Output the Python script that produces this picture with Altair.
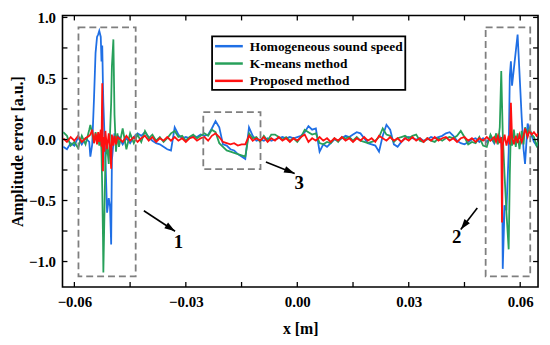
import altair as alt
import pandas as pd

# ---------------- data (x in mm) ----------------
x_left = [-63, -62, -61, -60, -59, -58, -57, -56]
x_spike1 = [-55.7, -55.2, -54.7, -54.3, -53.9, -53.6, -53.3, -52.9, -52.7, -52.5,
            -52.3, -52.2, -51.9, -51.65, -51.2, -50.75, -50.4, -50.1, -49.9, -49.5,
            -49.2, -48.8, -48.4]
x_mid = [-48, -47, -46, -45, -44, -43, -42, -41, -40, -39, -38, -37, -36, -35, -34,
         -33, -32, -31, -30, -29, -28, -27, -26, -25, -24, -23, -22, -21, -20, -19,
         -18, -17, -16, -15, -14, -13, -12, -11, -10, -9, -8, -7, -6, -5, -4, -3, -2,
         -1, 0, 1, 2, 3, 4, 5, 6, 7, 8, 9, 10, 11, 12, 13, 14, 15, 16, 17, 18, 19, 20,
         21, 22, 23, 24, 25, 26, 27, 28, 29, 30, 31, 32, 33, 34, 35, 36, 37, 38, 39,
         40, 41, 42, 43, 44, 45, 46, 47, 48, 49, 50, 51, 52, 53]
x_spike2 = [53.5, 54.0, 54.5, 54.9, 55.1, 55.3, 55.8, 56.3, 56.9, 57.2, 57.5, 57.8,
            58.3, 58.8, 59.3, 59.8, 60.4, 60.9, 61.3, 62.0, 62.5, 63.1, 63.7, 64.4, 64.8]

homog_left = [-0.06, -0.08, -0.03, -0.05, 0.02, -0.04, 0.01, -0.02]
homog_spike1 = [-0.14, -0.04, 0.35, 0.71, 0.84, 0.86, 0.89, 0.84, 0.64, 0.77,
                0.43, 0.30, 0.04, -0.15, -0.60, -0.48, -0.55, -0.86, -0.17, -0.03,
                0.05, -0.02, 0.03]
homog_mid = [0.02, -0.04, 0.01, -0.03, 0.02, 0.05, 0.03, 0.06, 0.02, -0.01, -0.03,
             -0.04, -0.06, -0.08, -0.09, 0.10, 0.04, 0.01, 0.02, 0.01, 0.03, 0.02,
             0.04, 0.03, 0.04, 0.09, 0.15, 0.10, -0.04, -0.05, -0.08, -0.09, -0.12,
             -0.14, -0.16, 0.10, 0.03, -0.01, 0.00, -0.01, 0.01, -0.01, 0.00, 0.01,
             0.02, 0.01, 0.02, 0.01, 0.02, 0.03, 0.06, 0.11, 0.08, 0.09, -0.10, -0.04,
             -0.06, -0.03, 0.00, -0.01, 0.01, 0.03, 0.02, 0.04, 0.06, 0.05, 0.01,
             -0.03, -0.04, -0.05, -0.10, 0.03, 0.12, 0.08, -0.04, -0.06, -0.02, 0.01,
             0.02, 0.01, 0.00, 0.01, -0.01, 0.00, 0.02, 0.01, 0.02, 0.03, 0.05, 0.06,
             0.03, -0.01, -0.03, -0.04, -0.02, 0.00, 0.01, -0.02, 0.01, -0.02, 0.02,
             -0.03]
homog_spike2 = [0.03, -0.02, 0.02, -0.03, -0.10, -1.06, -0.54, -0.58, -0.10, 0.52,
                0.64, 0.44, 0.58, 0.72, 0.86, 0.55, 0.18, -0.08, -0.20, 0.13, 0.08,
                0.03, -0.02, -0.05, -0.03]

kmeans_left = [0.06, 0.03, -0.05, -0.02, -0.07, 0.03, -0.04, 0.08]
kmeans_spike1 = [0.12, 0.05, -0.03, 0.06, -0.02, 0.04, -0.05, 0.06, -0.10, -0.40,
                 -0.80, -1.09, -0.60, -0.15, -0.05, -0.20, 0.05, 0.30, 0.60, 0.82,
                 0.20, -0.10, 0.05]
kmeans_mid = [-0.06, 0.09, -0.08, 0.05, -0.03, 0.04, -0.02, 0.07, 0.01, 0.04, -0.01,
              0.02, -0.02, 0.01, 0.05, 0.07, 0.02, 0.03, -0.01, 0.02, 0.04, 0.01,
              0.03, 0.05, 0.03, 0.08, 0.06, -0.03, -0.06, -0.09, -0.10, -0.11, -0.12,
              -0.13, -0.14, 0.05, 0.01, 0.02, -0.02, 0.03, -0.01, 0.04, 0.04, 0.02,
              0.00, 0.02, -0.01, 0.01, -0.02, 0.02, 0.08, 0.06, 0.04, 0.05, -0.03,
              -0.04, -0.02, -0.03, 0.01, -0.02, 0.02, 0.01, 0.02, -0.01, 0.02, -0.01,
              -0.02, -0.03, -0.02, -0.01, 0.02, 0.09, 0.04, 0.03, -0.02, 0.01, 0.02,
              0.03, 0.01, 0.03, 0.04, -0.01, -0.02, 0.01, -0.01, -0.02, 0.01, -0.01,
              0.01, 0.02, 0.01, 0.03, 0.07, 0.02, -0.04, -0.02, -0.03, 0.02, -0.05,
              -0.06, 0.04, -0.02]
kmeans_spike2 = [0.05, -0.04, 0.10, 0.56, 0.30, 0.05, -0.30, -0.60, -0.90, -0.30,
                 0.10, -0.05, 0.08, -0.06, 0.05, -0.08, 0.07, -0.04, 0.10, 0.05, 0.09,
                 0.04, 0.02, -0.05, -0.02]

proposed_left = [0.01, -0.02, 0.02, -0.01, 0.03, -0.02, 0.01, 0.03]
proposed_spike1 = [0.04, 0.08, -0.03, 0.05, -0.04, 0.06, -0.02, 0.08, -0.06, 0.46,
                   -0.26, 0.02, -0.10, 0.07, -0.08, 0.05, -0.06, -0.24, 0.04, -0.05,
                   0.03, -0.04, 0.02]
proposed_mid = [0.01, -0.02, 0.03, -0.01, 0.02, -0.02, 0.01, 0.03, -0.01, 0.02, -0.02,
                0.01, -0.01, 0.02, -0.01, 0.02, -0.01, 0.01, -0.02, 0.01, 0.02, -0.01,
                0.01, 0.02, -0.01, 0.03, 0.05, 0.02, -0.02, -0.03, -0.04, -0.03, -0.05,
                -0.04, -0.04, 0.03, -0.01, 0.01, -0.01, 0.02, -0.02, 0.01, -0.01, 0.02,
                -0.01, 0.01, -0.02, 0.01, -0.01, 0.02, 0.04, -0.02, 0.01, -0.01, 0.02,
                -0.01, 0.01, -0.02, 0.01, -0.01, 0.02, -0.01, 0.01, -0.02, 0.01, -0.01,
                0.02, -0.01, 0.01, -0.02, 0.03, 0.01, -0.01, 0.02, -0.01, 0.01, -0.02,
                0.01, -0.01, 0.02, -0.01, 0.01, -0.02, 0.01, -0.01, 0.02, -0.01, 0.01,
                0.02, -0.01, 0.01, -0.02, 0.01, 0.02, -0.01, 0.01, -0.02, 0.01, -0.01,
                0.02, -0.01, 0.02]
proposed_spike2 = [-0.02, 0.03, -0.03, 0.02, -0.68, -0.05, 0.04, -0.05, 0.03, -0.04,
                   0.30, 0.02, -0.04, 0.03, -0.03, 0.04, -0.02, 0.03, 0.09, 0.02, 0.07,
                   0.04, 0.06, 0.03, 0.05]

series_names = ["Homogeneous sound speed", "K-means method", "Proposed method"]
series_colors = ["#1f6fe5", "#27a05a", "#ff1010"]

x_ticks = [-0.06, -0.045, -0.03, -0.015, 0.0, 0.015, 0.03, 0.045, 0.06]
x_labels = [-0.06, -0.03, 0.0, 0.03, 0.06]
y_ticks = [-1.0, -0.75, -0.5, -0.25, 0.0, 0.25, 0.5, 0.75, 1.0]
y_labels = [-1.0, -0.5, 0.0, 0.5, 1.0]

# annotation boxes, arrows and numbers (data coordinates)
box_x0 = [-0.0589, 0.0507, -0.0253]
box_x1 = [-0.0435, 0.0627, -0.0099]
box_y0 = [0.918, 0.918, 0.224]
box_y1 = [-1.122, -1.122, -0.243]
arrow_x0 = [-0.0413, 0.04845, -0.00845]
arrow_y0 = [-0.584, -0.562, -0.184]
arrow_x1 = [-0.0329, 0.0440, -0.0007]
arrow_y1 = [-0.752, -0.738, -0.278]
arrow_angle = [123.5, 217.2, 112.0]
num_text = ["1", "2", "3"]
num_x = [-0.0320, 0.0429, 0.00053]
num_y = [-0.844, -0.800, -0.360]

# ---------------- chart ----------------
W, H = 480, 274
FONT = "Liberation Serif"
xs = alt.Scale(domain=[-0.0632, 0.0648], nice=False, zero=False)
ys = alt.Scale(domain=[-1.208, 1.016], nice=False, zero=False)

x_mm = x_left + x_spike1 + x_mid + x_spike2
vals = {
    series_names[0]: homog_left + homog_spike1 + homog_mid + homog_spike2,
    series_names[1]: kmeans_left + kmeans_spike1 + kmeans_mid + kmeans_spike2,
    series_names[2]: proposed_left + proposed_spike1 + proposed_mid + proposed_spike2,
}

xaxis = alt.Axis(values=x_labels, format=".2f", tickSize=0, domain=False, grid=False,
                 labelPadding=8, title="x [m]", titlePadding=11)
yaxis = alt.Axis(values=y_labels, format=".1f", tickSize=0, domain=False, grid=False,
                 labelPadding=7, title="Amplitude error [a.u.]", titlePadding=3)


def X(field):
    return alt.X(field, scale=xs, axis=xaxis)


def Y(field):
    return alt.Y(field, scale=ys, axis=yaxis)


color = alt.Color("series:N",
                  scale=alt.Scale(domain=series_names, range=series_colors),
                  legend=None)

layers = []
for name in series_names:
    d = pd.DataFrame({"x": [v / 1000 for v in x_mm], "y": vals[name], "series": name})
    layers.append(
        alt.Chart(d).mark_line(strokeWidth=1.8, clip=True).encode(
            x=X("x:Q"), y=Y("y:Q"), color=color)
    )

xt = pd.DataFrame({"t": x_ticks})
yt = pd.DataFrame({"t": y_ticks})
tick_style = dict(color="black", strokeWidth=1.3)
layers += [
    alt.Chart(xt).mark_rule(**tick_style).encode(
        x=X("t:Q"), y=alt.value(H), y2=alt.value(H - 5)),
    alt.Chart(xt).mark_rule(**tick_style).encode(
        x=X("t:Q"), y=alt.value(0), y2=alt.value(5)),
    alt.Chart(yt).mark_rule(**tick_style).encode(
        y=Y("t:Q"), x=alt.value(0), x2=alt.value(5)),
    alt.Chart(yt).mark_rule(**tick_style).encode(
        y=Y("t:Q"), x=alt.value(W), x2=alt.value(W - 5)),
]

boxes = pd.DataFrame({"x0": box_x0, "x1": box_x1, "y0": box_y0, "y1": box_y1})
layers.append(
    alt.Chart(boxes).mark_rect(fill=None, fillOpacity=0, stroke="#7f7f7f",
                               strokeWidth=1.8, strokeDash=[7, 4]).encode(
        x=X("x0:Q"), x2="x1:Q", y=Y("y0:Q"), y2="y1:Q")
)

arrows = pd.DataFrame({"x0": arrow_x0, "y0": arrow_y0, "x1": arrow_x1, "y1": arrow_y1,
                       "angle": arrow_angle})
layers.append(
    alt.Chart(arrows).mark_rule(color="black", strokeWidth=1.6).encode(
        x=X("x0:Q"), x2="x1:Q", y=Y("y0:Q"), y2="y1:Q")
)
layers.append(
    alt.Chart(arrows).mark_point(shape="M0,0L0.7,2.2L-0.7,2.2Z", filled=True,
                                 fill="black", stroke=None, opacity=1, size=95).encode(
        x=X("x1:Q"), y=Y("y1:Q"), angle=alt.Angle("angle:Q", scale=None))
)

nums = pd.DataFrame({"x": num_x, "y": num_y, "t": num_text})
layers.append(
    alt.Chart(nums).mark_text(font=FONT, fontWeight="bold", fontSize=19, color="black",
                              align="center", baseline="middle").encode(
        x=X("x:Q"), y=Y("y:Q"), text="t:N")
)

# legend drawn by hand (box, line samples, labels) in pixel space of the plot
LEG_X0, LEG_X1, LEG_Y0, LEG_Y1 = 151, 346, 21, 75
layers.append(
    alt.Chart(pd.DataFrame({"a": [0]})).mark_rect(
        fill="white", stroke="black", strokeWidth=1.8).encode(
        x=alt.value(LEG_X0), x2=alt.value(LEG_X1),
        y=alt.value(LEG_Y0), y2=alt.value(LEG_Y1))
)
for i, (name, col) in enumerate(zip(series_names, series_colors)):
    ry = LEG_Y0 + 10 + 17.5 * i
    one = pd.DataFrame({"series": [name]})
    layers.append(
        alt.Chart(one).mark_rule(color=col, strokeWidth=2.5).encode(
            x=alt.value(LEG_X0 + 3), x2=alt.value(LEG_X0 + 31),
            y=alt.value(ry))
    )
    layers.append(
        alt.Chart(one).mark_text(font=FONT, fontWeight="bold", fontSize=13.5,
                                 color="black", align="left", baseline="middle").encode(
            x=alt.value(LEG_X0 + 38), y=alt.value(ry + 0.5), text="series:N")
    )

chart = alt.layer(*layers).properties(
    width=W, height=H,
    autosize=alt.AutoSizeParams(type="none"),
    padding={"left": 55, "top": 6, "right": 4, "bottom": 49},
    background="white",
).configure_view(
    stroke="black", strokeWidth=1.6
).configure_axis(
    labelFont=FONT, labelFontWeight="bold", labelFontSize=15, labelColor="black",
    titleFont=FONT, titleFontWeight="bold", titleFontSize=16, titleColor="black",
)

chart.save("out.html", embed_options={"renderer": "svg", "actions": False})
